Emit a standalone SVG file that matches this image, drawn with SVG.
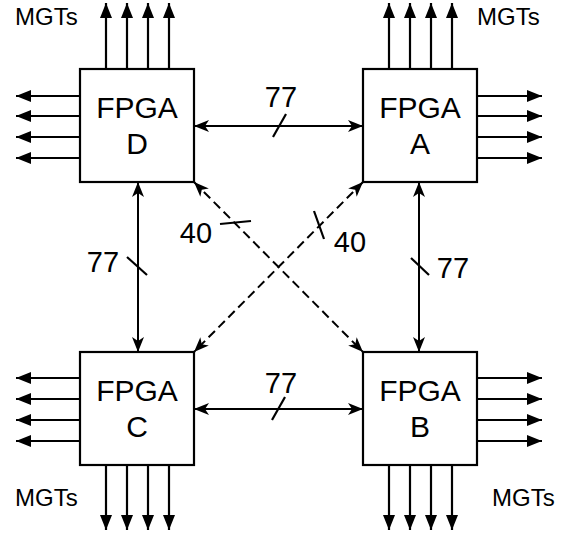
<svg xmlns="http://www.w3.org/2000/svg" width="563" height="533" viewBox="0 0 563 533">
<style>
.box{fill:#fff;stroke:#000;stroke-width:2.2}
.ln{stroke:#000;stroke-width:2.2;fill:none}
.mgt{stroke:#000;stroke-width:2.2;fill:none;marker-end:url(#tri)}
.con{stroke:#000;stroke-width:2;fill:none;marker-start:url(#stl);marker-end:url(#stl)}
.dash{stroke-dasharray:9,5}
.lbl{font-family:"Liberation Sans",Arial,sans-serif;font-size:30px;fill:#000;text-anchor:middle}
.num{font-family:"Liberation Sans",Arial,sans-serif;font-size:29px;fill:#000}
.mg{font-family:"Liberation Sans",Arial,sans-serif;font-size:24px;fill:#000}
</style>
<defs>
<marker id="tri" markerUnits="userSpaceOnUse" markerWidth="16" markerHeight="14" refX="15" refY="6" orient="auto" overflow="visible">
<path d="M0,0 L15,6 L0,12 Z" fill="#000"/>
</marker>
<marker id="stl" markerUnits="userSpaceOnUse" markerWidth="16" markerHeight="14" refX="15" refY="6" orient="auto-start-reverse" overflow="visible">
<path d="M0,0 L15,6 L0,12 L4,6 Z" fill="#000"/>
</marker>
</defs>

<g id="mgt-arrows">
<!-- D top -->
<line class="mgt" x1="106" y1="69" x2="106" y2="3"/>
<line class="mgt" x1="127" y1="69" x2="127" y2="3"/>
<line class="mgt" x1="148" y1="69" x2="148" y2="3"/>
<line class="mgt" x1="169" y1="69" x2="169" y2="3"/>
<!-- D left -->
<line class="mgt" x1="80" y1="96" x2="16" y2="96"/>
<line class="mgt" x1="80" y1="116" x2="16" y2="116"/>
<line class="mgt" x1="80" y1="137" x2="16" y2="137"/>
<line class="mgt" x1="80" y1="158" x2="16" y2="158"/>
<!-- A top -->
<line class="mgt" x1="389" y1="69" x2="389" y2="3"/>
<line class="mgt" x1="410" y1="69" x2="410" y2="3"/>
<line class="mgt" x1="431" y1="69" x2="431" y2="3"/>
<line class="mgt" x1="452" y1="69" x2="452" y2="3"/>
<!-- A right -->
<line class="mgt" x1="477" y1="96" x2="542" y2="96"/>
<line class="mgt" x1="477" y1="116" x2="542" y2="116"/>
<line class="mgt" x1="477" y1="137" x2="542" y2="137"/>
<line class="mgt" x1="477" y1="158" x2="542" y2="158"/>
<!-- C left -->
<line class="mgt" x1="80" y1="378" x2="16" y2="378"/>
<line class="mgt" x1="80" y1="399" x2="16" y2="399"/>
<line class="mgt" x1="80" y1="420" x2="16" y2="420"/>
<line class="mgt" x1="80" y1="441" x2="16" y2="441"/>
<!-- C bottom -->
<line class="mgt" x1="106" y1="465" x2="106" y2="530"/>
<line class="mgt" x1="127" y1="465" x2="127" y2="530"/>
<line class="mgt" x1="148" y1="465" x2="148" y2="530"/>
<line class="mgt" x1="169" y1="465" x2="169" y2="530"/>
<!-- B right -->
<line class="mgt" x1="477" y1="378" x2="542" y2="378"/>
<line class="mgt" x1="477" y1="399" x2="542" y2="399"/>
<line class="mgt" x1="477" y1="420" x2="542" y2="420"/>
<line class="mgt" x1="477" y1="441" x2="542" y2="441"/>
<!-- B bottom -->
<line class="mgt" x1="389" y1="465" x2="389" y2="530"/>
<line class="mgt" x1="410" y1="465" x2="410" y2="530"/>
<line class="mgt" x1="431" y1="465" x2="431" y2="530"/>
<line class="mgt" x1="452" y1="465" x2="452" y2="530"/>
</g>

<g id="connectors">
<line class="con" x1="194" y1="126" x2="363" y2="126"/>
<line class="ln" x1="273" y1="137" x2="286" y2="114"/>
<text class="num" x="281" y="107" text-anchor="middle">77</text>

<line class="con" x1="194" y1="409" x2="363" y2="409"/>
<line class="ln" x1="272" y1="420" x2="285" y2="397"/>
<text class="num" x="281" y="393" text-anchor="middle">77</text>

<line class="con" x1="138" y1="182" x2="138" y2="352"/>
<line class="ln" x1="127" y1="257" x2="147" y2="275"/>
<text class="num" x="103" y="272" text-anchor="middle">77</text>

<line class="con" x1="419" y1="182" x2="419" y2="352"/>
<line class="ln" x1="411" y1="258" x2="429" y2="275"/>
<text class="num" x="453" y="278" text-anchor="middle">77</text>

<line class="con dash" x1="194" y1="182" x2="363" y2="352"/>
<line class="ln" x1="220" y1="224" x2="251" y2="221"/>
<text class="num" x="196" y="243" text-anchor="middle">40</text>

<line class="con dash" x1="363" y1="182" x2="194" y2="352"/>
<line class="ln" x1="314" y1="211" x2="324" y2="239"/>
<text class="num" x="350" y="252" text-anchor="middle">40</text>
</g>

<g id="fpga-d">
<rect class="box" x="80" y="69" width="114" height="113"/>
<text class="lbl" x="137" y="118">FPGA</text>
<text class="lbl" x="137" y="154">D</text>
</g>
<g id="fpga-a">
<rect class="box" x="363" y="69" width="114" height="113"/>
<text class="lbl" x="420" y="118">FPGA</text>
<text class="lbl" x="420" y="154">A</text>
</g>
<g id="fpga-c">
<rect class="box" x="80" y="352" width="114" height="113"/>
<text class="lbl" x="137" y="401">FPGA</text>
<text class="lbl" x="137" y="437">C</text>
</g>
<g id="fpga-b">
<rect class="box" x="363" y="352" width="114" height="113"/>
<text class="lbl" x="420" y="401">FPGA</text>
<text class="lbl" x="420" y="437">B</text>
</g>

<g id="mgt-labels">
<text class="mg" x="15" y="25">MGTs</text>
<text class="mg" x="477" y="25">MGTs</text>
<text class="mg" x="15" y="506">MGTs</text>
<text class="mg" x="492" y="506">MGTs</text>
</g>
</svg>
